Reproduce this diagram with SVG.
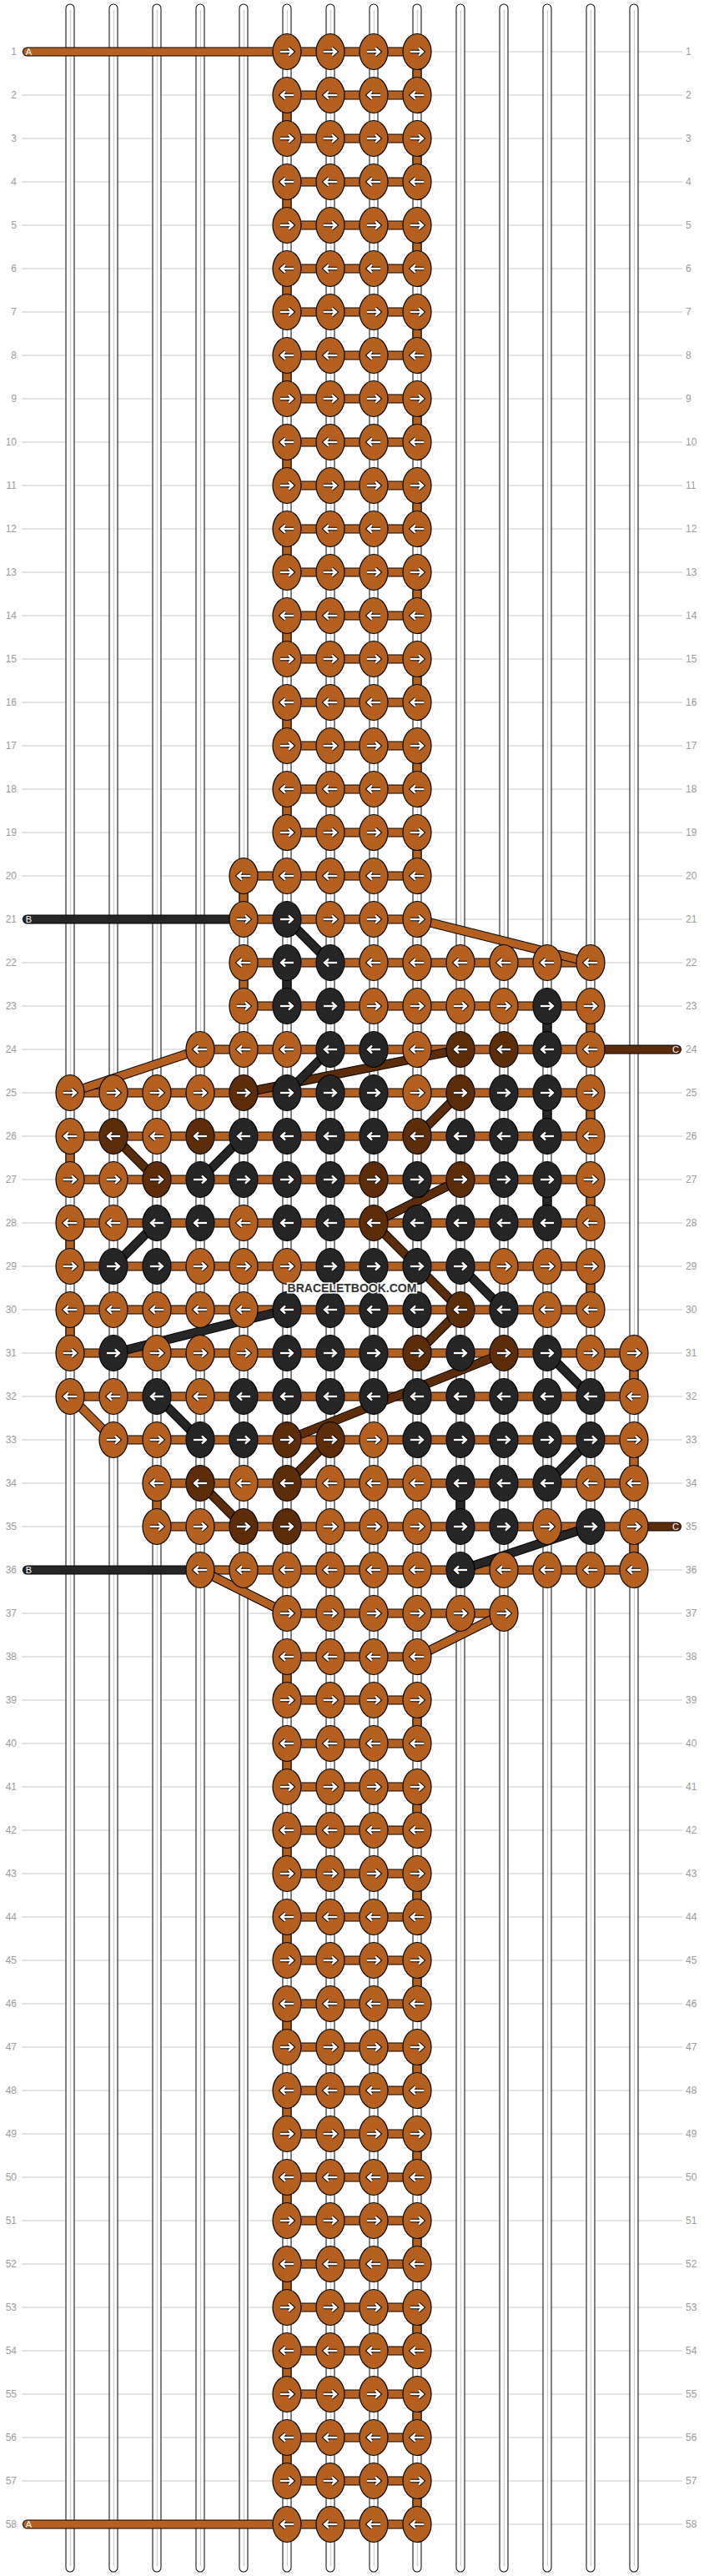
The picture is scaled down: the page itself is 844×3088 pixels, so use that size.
<svg xmlns="http://www.w3.org/2000/svg" xmlns:xlink="http://www.w3.org/1999/xlink" width="844" height="3088" viewBox="0 0 844 3088">
<style>
.gl{stroke:#c6c6c6;stroke-width:1.2;fill:none}
.so{stroke:#000;stroke-width:11;stroke-linecap:round;fill:none}
.sw{stroke:#fff;stroke-width:9;stroke-linecap:round;fill:none}
.sc{stroke:#cfcfcf;stroke-width:1.3;fill:none}
.o{stroke:#000;stroke-width:11;fill:none}
.fb{stroke:#b5601e;stroke-width:9;fill:none}
.fk{stroke:#262626;stroke-width:9;fill:none}
.fd{stroke:#5c2d08;stroke-width:9;fill:none}
.to{stroke:#000;stroke-width:11;stroke-linecap:round;fill:none}
.tb{stroke:#b5601e;stroke-width:9;stroke-linecap:round;fill:none}
.tk{stroke:#262626;stroke-width:9;stroke-linecap:round;fill:none}
.td{stroke:#5c2d08;stroke-width:9;stroke-linecap:round;fill:none}
.eb{fill:#b5601e;stroke:#000;stroke-width:1.2}
.ek{fill:#262626;stroke:#000;stroke-width:1.2}
.ed{fill:#5c2d08;stroke:#000;stroke-width:1.2}
.ao{fill:none;stroke:#000;stroke-width:4.4}
.ai{fill:none;stroke:#fff;stroke-width:2.4}
.rl{font-family:"Liberation Sans",Arial,sans-serif;font-size:12px;fill:#9a9a9a}
.rll{text-anchor:end}
.tl{font-family:"Liberation Sans",Arial,sans-serif;font-size:11px;fill:#fff;text-anchor:middle}
.wm{font-family:"Liberation Sans",Arial,sans-serif;font-size:14px;font-weight:bold;fill:#333;stroke:#fff;stroke-width:3;paint-order:stroke;text-anchor:middle}
</style>
<defs>
<path id="aR" d="M-8,0H6.5M2,-4.5L7,0L2,4.5"/>
<path id="aL" d="M8,0H-6.5M-2,-4.5L-7,0L-2,4.5"/>
<g id="Rb"><ellipse class="eb" rx="17" ry="21.5"/><use href="#aR" class="ao"/><use href="#aR" class="ai"/></g>
<g id="Rk"><ellipse class="ek" rx="17" ry="21.5"/><use href="#aR" class="ao"/><use href="#aR" class="ai"/></g>
<g id="Rd"><ellipse class="ed" rx="17" ry="21.5"/><use href="#aR" class="ao"/><use href="#aR" class="ai"/></g>
<g id="Lb"><ellipse class="eb" rx="17" ry="21.5"/><use href="#aL" class="ao"/><use href="#aL" class="ai"/></g>
<g id="Lk"><ellipse class="ek" rx="17" ry="21.5"/><use href="#aL" class="ao"/><use href="#aL" class="ai"/></g>
<g id="Ld"><ellipse class="ed" rx="17" ry="21.5"/><use href="#aL" class="ao"/><use href="#aL" class="ai"/></g>
</defs>
<rect width="844" height="3088" fill="#fff"/>
<g id="grid">
<path class="gl" d="M26,62H818M26,114H818M26,166H818M26,218H818M26,270H818M26,322H818M26,374H818M26,426H818M26,478H818M26,530H818M26,582H818M26,634H818M26,686H818M26,738H818M26,790H818M26,842H818M26,894H818M26,946H818M26,998H818M26,1050H818M26,1102H818M26,1154H818M26,1206H818M26,1258H818M26,1310H818M26,1362H818M26,1414H818M26,1466H818M26,1518H818M26,1570H818M26,1622H818M26,1674H818M26,1726H818M26,1778H818M26,1830H818M26,1882H818M26,1934H818M26,1986H818M26,2038H818M26,2090H818M26,2142H818M26,2194H818M26,2246H818M26,2298H818M26,2350H818M26,2402H818M26,2454H818M26,2506H818M26,2558H818M26,2610H818M26,2662H818M26,2714H818M26,2766H818M26,2818H818M26,2870H818M26,2922H818M26,2974H818M26,3026H818"/>
</g>
<g id="labels-left" class="rl rll">
<text x="20" y="66">1</text><text x="20" y="118">2</text><text x="20" y="170">3</text><text x="20" y="222">4</text><text x="20" y="274">5</text><text x="20" y="326">6</text><text x="20" y="378">7</text><text x="20" y="430">8</text><text x="20" y="482">9</text><text x="20" y="534">10</text><text x="20" y="586">11</text><text x="20" y="638">12</text><text x="20" y="690">13</text><text x="20" y="742">14</text><text x="20" y="794">15</text><text x="20" y="846">16</text><text x="20" y="898">17</text><text x="20" y="950">18</text><text x="20" y="1002">19</text><text x="20" y="1054">20</text><text x="20" y="1106">21</text><text x="20" y="1158">22</text><text x="20" y="1210">23</text><text x="20" y="1262">24</text><text x="20" y="1314">25</text><text x="20" y="1366">26</text><text x="20" y="1418">27</text><text x="20" y="1470">28</text><text x="20" y="1522">29</text><text x="20" y="1574">30</text><text x="20" y="1626">31</text><text x="20" y="1678">32</text><text x="20" y="1730">33</text><text x="20" y="1782">34</text><text x="20" y="1834">35</text><text x="20" y="1886">36</text><text x="20" y="1938">37</text><text x="20" y="1990">38</text><text x="20" y="2042">39</text><text x="20" y="2094">40</text><text x="20" y="2146">41</text><text x="20" y="2198">42</text><text x="20" y="2250">43</text><text x="20" y="2302">44</text><text x="20" y="2354">45</text><text x="20" y="2406">46</text><text x="20" y="2458">47</text><text x="20" y="2510">48</text><text x="20" y="2562">49</text><text x="20" y="2614">50</text><text x="20" y="2666">51</text><text x="20" y="2718">52</text><text x="20" y="2770">53</text><text x="20" y="2822">54</text><text x="20" y="2874">55</text><text x="20" y="2926">56</text><text x="20" y="2978">57</text><text x="20" y="3030">58</text>
</g>
<g id="labels-right" class="rl">
<text x="822" y="66">1</text><text x="822" y="118">2</text><text x="822" y="170">3</text><text x="822" y="222">4</text><text x="822" y="274">5</text><text x="822" y="326">6</text><text x="822" y="378">7</text><text x="822" y="430">8</text><text x="822" y="482">9</text><text x="822" y="534">10</text><text x="822" y="586">11</text><text x="822" y="638">12</text><text x="822" y="690">13</text><text x="822" y="742">14</text><text x="822" y="794">15</text><text x="822" y="846">16</text><text x="822" y="898">17</text><text x="822" y="950">18</text><text x="822" y="1002">19</text><text x="822" y="1054">20</text><text x="822" y="1106">21</text><text x="822" y="1158">22</text><text x="822" y="1210">23</text><text x="822" y="1262">24</text><text x="822" y="1314">25</text><text x="822" y="1366">26</text><text x="822" y="1418">27</text><text x="822" y="1470">28</text><text x="822" y="1522">29</text><text x="822" y="1574">30</text><text x="822" y="1626">31</text><text x="822" y="1678">32</text><text x="822" y="1730">33</text><text x="822" y="1782">34</text><text x="822" y="1834">35</text><text x="822" y="1886">36</text><text x="822" y="1938">37</text><text x="822" y="1990">38</text><text x="822" y="2042">39</text><text x="822" y="2094">40</text><text x="822" y="2146">41</text><text x="822" y="2198">42</text><text x="822" y="2250">43</text><text x="822" y="2302">44</text><text x="822" y="2354">45</text><text x="822" y="2406">46</text><text x="822" y="2458">47</text><text x="822" y="2510">48</text><text x="822" y="2562">49</text><text x="822" y="2614">50</text><text x="822" y="2666">51</text><text x="822" y="2718">52</text><text x="822" y="2770">53</text><text x="822" y="2822">54</text><text x="822" y="2874">55</text><text x="822" y="2926">56</text><text x="822" y="2978">57</text><text x="822" y="3030">58</text>
</g>
<g id="strings">
<path class="so" d="M84,10V3078M136,10V3078M188,10V3078M240,10V3078M292,10V3078M344,10V3078M396,10V3078M448,10V3078M500,10V3078M552,10V3078M604,10V3078M656,10V3078M708,10V3078M760,10V3078"/>
<path class="sw" d="M84,10V3078M136,10V3078M188,10V3078M240,10V3078M292,10V3078M344,10V3078M396,10V3078M448,10V3078M500,10V3078M552,10V3078M604,10V3078M656,10V3078M708,10V3078M760,10V3078"/>
<path class="sc" d="M84.5,12V3076M136.5,12V3076M188.5,12V3076M240.5,12V3076M292.5,12V3076M344.5,12V3076M396.5,12V3076M448.5,12V3076M500.5,12V3076M552.5,12V3076M604.5,12V3076M656.5,12V3076M708.5,12V3076M760.5,12V3076"/>
</g>
<g id="connectors">
<path id="bars-o" class="o" d="M344,62H500M344,114H500M344,166H500M344,218H500M344,270H500M344,322H500M344,374H500M344,426H500M344,478H500M344,530H500M344,582H500M344,634H500M344,686H500M344,738H500M344,790H500M344,842H500M344,894H500M344,946H500M344,998H500M292,1050H500M292,1102H500M292,1154H708M292,1206H708M240,1258H708M84,1310H708M84,1362H708M84,1414H708M84,1466H708M84,1518H708M84,1570H708M84,1622H760M84,1674H760M136,1726H760M188,1778H760M188,1830H760M240,1882H760M344,1934H604M344,1986H500M344,2038H500M344,2090H500M344,2142H500M344,2194H500M344,2246H500M344,2298H500M344,2350H500M344,2402H500M344,2454H500M344,2506H500M344,2558H500M344,2610H500M344,2662H500M344,2714H500M344,2766H500M344,2818H500M344,2870H500M344,2922H500M344,2974H500M344,3026H500"/>
<path id="bars" class="fb" d="M344,62H500M344,114H500M344,166H500M344,218H500M344,270H500M344,322H500M344,374H500M344,426H500M344,478H500M344,530H500M344,582H500M344,634H500M344,686H500M344,738H500M344,790H500M344,842H500M344,894H500M344,946H500M344,998H500M292,1050H500M292,1102H500M292,1154H708M292,1206H708M240,1258H708M84,1310H708M84,1362H708M84,1414H708M84,1466H708M84,1518H708M84,1570H708M84,1622H760M84,1674H760M136,1726H760M188,1778H760M188,1830H760M240,1882H760M344,1934H604M344,1986H500M344,2038H500M344,2090H500M344,2142H500M344,2194H500M344,2246H500M344,2298H500M344,2350H500M344,2402H500M344,2454H500M344,2506H500M344,2558H500M344,2610H500M344,2662H500M344,2714H500M344,2766H500M344,2818H500M344,2870H500M344,2922H500M344,2974H500M344,3026H500"/>
<path class="o" d="M500,62V114M500,166V218M500,270V322M500,374V426M500,478V530M500,582V634M500,686V738M500,790V842M500,894V946M500,998V1050M344,114V166M344,218V270M344,322V374M344,426V478M344,530V582M344,634V686M344,738V790M344,842V894M344,946V998M292,1050V1102M292,1154V1206M708,1206V1258M708,1310V1362M84,1362V1414M708,1414V1466M84,1466V1518M708,1518V1570M84,1570V1622M760,1622V1674M760,1726V1778M188,1778V1830M760,1830V1882M344,1986V2038M344,2090V2142M344,2194V2246M344,2298V2350M344,2402V2454M344,2506V2558M344,2610V2662M344,2714V2766M344,2818V2870M344,2922V2974M500,2038V2090M500,2142V2194M500,2246V2298M500,2350V2402M500,2454V2506M500,2558V2610M500,2662V2714M500,2766V2818M500,2870V2922M500,2974V3026"/>
<path class="fb" d="M500,62V114M500,166V218M500,270V322M500,374V426M500,478V530M500,582V634M500,686V738M500,790V842M500,894V946M500,998V1050M344,114V166M344,218V270M344,322V374M344,426V478M344,530V582M344,634V686M344,738V790M344,842V894M344,946V998M292,1050V1102M292,1154V1206M708,1206V1258M708,1310V1362M84,1362V1414M708,1414V1466M84,1466V1518M708,1518V1570M84,1570V1622M760,1622V1674M760,1726V1778M188,1778V1830M760,1830V1882M344,1986V2038M344,2090V2142M344,2194V2246M344,2298V2350M344,2402V2454M344,2506V2558M344,2610V2662M344,2714V2766M344,2818V2870M344,2922V2974M500,2038V2090M500,2142V2194M500,2246V2298M500,2350V2402M500,2454V2506M500,2558V2610M500,2662V2714M500,2766V2818M500,2870V2922M500,2974V3026"/>
<path class="o" d="M344,1154V1206M656,1206V1258M656,1310V1362M656,1414V1466M552,1778V1830"/>
<path class="fk" d="M344,1154V1206M656,1206V1258M656,1310V1362M656,1414V1466M552,1778V1830"/>
<path class="o" d="M500,1102L708,1154M240,1258L84,1310M84,1674L136,1726M240,1882L344,1934M604,1934L500,1986"/>
<path class="fb" d="M500,1102L708,1154M240,1258L84,1310M84,1674L136,1726M240,1882L344,1934M604,1934L500,1986"/>
<path class="o" d="M552,1258L292,1310M552,1310L500,1362M136,1362L188,1414M552,1414L448,1466M448,1466L552,1570M552,1570L500,1622M604,1622L344,1726M396,1726L344,1778M240,1778L292,1830"/>
<path class="fd" d="M552,1258L292,1310M552,1310L500,1362M136,1362L188,1414M552,1414L448,1466M448,1466L552,1570M552,1570L500,1622M604,1622L344,1726M396,1726L344,1778M240,1778L292,1830"/>
<path class="o" d="M344,1102L396,1154M396,1258L344,1310M292,1362L240,1414M188,1466L136,1518M552,1518L604,1570M344,1570L136,1622M656,1622L708,1674M188,1674L240,1726M708,1726L656,1778M708,1830L552,1882"/>
<path class="fk" d="M344,1102L396,1154M396,1258L344,1310M292,1362L240,1414M188,1466L136,1518M552,1518L604,1570M344,1570L136,1622M656,1622L708,1674M188,1674L240,1726M708,1726L656,1778M708,1830L552,1882"/>
</g>
<g id="thread-A">
<path class="to" d="M32.5,62H344M32.5,3026H344"/>
<path class="tb" d="M32.5,62H344M32.5,3026H344"/>
<text class="tl" x="34.5" y="66">A</text><text class="tl" x="34.5" y="3030">A</text>
</g>
<g id="thread-B">
<path class="to" d="M32.5,1102H292M32.5,1882H240"/>
<path class="tk" d="M32.5,1102H292M32.5,1882H240"/>
<text class="tl" x="34.5" y="1106">B</text><text class="tl" x="34.5" y="1886">B</text>
</g>
<g id="thread-C">
<path class="to" d="M708,1258H811.5M760,1830H811.5"/>
<path class="td" d="M708,1258H811.5M760,1830H811.5"/>
<text class="tl" x="810" y="1262">C</text><text class="tl" x="810" y="1834">C</text>
</g>
<g id="knots">
<g id="k1-5"><use href="#Rb" x="344" y="62"/></g><g id="k1-6"><use href="#Rb" x="396" y="62"/></g><g id="k1-7"><use href="#Rb" x="448" y="62"/></g><g id="k1-8"><use href="#Rb" x="500" y="62"/></g>
<g id="k2-5"><use href="#Lb" x="344" y="114"/></g><g id="k2-6"><use href="#Lb" x="396" y="114"/></g><g id="k2-7"><use href="#Lb" x="448" y="114"/></g><g id="k2-8"><use href="#Lb" x="500" y="114"/></g>
<g id="k3-5"><use href="#Rb" x="344" y="166"/></g><g id="k3-6"><use href="#Rb" x="396" y="166"/></g><g id="k3-7"><use href="#Rb" x="448" y="166"/></g><g id="k3-8"><use href="#Rb" x="500" y="166"/></g>
<g id="k4-5"><use href="#Lb" x="344" y="218"/></g><g id="k4-6"><use href="#Lb" x="396" y="218"/></g><g id="k4-7"><use href="#Lb" x="448" y="218"/></g><g id="k4-8"><use href="#Lb" x="500" y="218"/></g>
<g id="k5-5"><use href="#Rb" x="344" y="270"/></g><g id="k5-6"><use href="#Rb" x="396" y="270"/></g><g id="k5-7"><use href="#Rb" x="448" y="270"/></g><g id="k5-8"><use href="#Rb" x="500" y="270"/></g>
<g id="k6-5"><use href="#Lb" x="344" y="322"/></g><g id="k6-6"><use href="#Lb" x="396" y="322"/></g><g id="k6-7"><use href="#Lb" x="448" y="322"/></g><g id="k6-8"><use href="#Lb" x="500" y="322"/></g>
<g id="k7-5"><use href="#Rb" x="344" y="374"/></g><g id="k7-6"><use href="#Rb" x="396" y="374"/></g><g id="k7-7"><use href="#Rb" x="448" y="374"/></g><g id="k7-8"><use href="#Rb" x="500" y="374"/></g>
<g id="k8-5"><use href="#Lb" x="344" y="426"/></g><g id="k8-6"><use href="#Lb" x="396" y="426"/></g><g id="k8-7"><use href="#Lb" x="448" y="426"/></g><g id="k8-8"><use href="#Lb" x="500" y="426"/></g>
<g id="k9-5"><use href="#Rb" x="344" y="478"/></g><g id="k9-6"><use href="#Rb" x="396" y="478"/></g><g id="k9-7"><use href="#Rb" x="448" y="478"/></g><g id="k9-8"><use href="#Rb" x="500" y="478"/></g>
<g id="k10-5"><use href="#Lb" x="344" y="530"/></g><g id="k10-6"><use href="#Lb" x="396" y="530"/></g><g id="k10-7"><use href="#Lb" x="448" y="530"/></g><g id="k10-8"><use href="#Lb" x="500" y="530"/></g>
<g id="k11-5"><use href="#Rb" x="344" y="582"/></g><g id="k11-6"><use href="#Rb" x="396" y="582"/></g><g id="k11-7"><use href="#Rb" x="448" y="582"/></g><g id="k11-8"><use href="#Rb" x="500" y="582"/></g>
<g id="k12-5"><use href="#Lb" x="344" y="634"/></g><g id="k12-6"><use href="#Lb" x="396" y="634"/></g><g id="k12-7"><use href="#Lb" x="448" y="634"/></g><g id="k12-8"><use href="#Lb" x="500" y="634"/></g>
<g id="k13-5"><use href="#Rb" x="344" y="686"/></g><g id="k13-6"><use href="#Rb" x="396" y="686"/></g><g id="k13-7"><use href="#Rb" x="448" y="686"/></g><g id="k13-8"><use href="#Rb" x="500" y="686"/></g>
<g id="k14-5"><use href="#Lb" x="344" y="738"/></g><g id="k14-6"><use href="#Lb" x="396" y="738"/></g><g id="k14-7"><use href="#Lb" x="448" y="738"/></g><g id="k14-8"><use href="#Lb" x="500" y="738"/></g>
<g id="k15-5"><use href="#Rb" x="344" y="790"/></g><g id="k15-6"><use href="#Rb" x="396" y="790"/></g><g id="k15-7"><use href="#Rb" x="448" y="790"/></g><g id="k15-8"><use href="#Rb" x="500" y="790"/></g>
<g id="k16-5"><use href="#Lb" x="344" y="842"/></g><g id="k16-6"><use href="#Lb" x="396" y="842"/></g><g id="k16-7"><use href="#Lb" x="448" y="842"/></g><g id="k16-8"><use href="#Lb" x="500" y="842"/></g>
<g id="k17-5"><use href="#Rb" x="344" y="894"/></g><g id="k17-6"><use href="#Rb" x="396" y="894"/></g><g id="k17-7"><use href="#Rb" x="448" y="894"/></g><g id="k17-8"><use href="#Rb" x="500" y="894"/></g>
<g id="k18-5"><use href="#Lb" x="344" y="946"/></g><g id="k18-6"><use href="#Lb" x="396" y="946"/></g><g id="k18-7"><use href="#Lb" x="448" y="946"/></g><g id="k18-8"><use href="#Lb" x="500" y="946"/></g>
<g id="k19-5"><use href="#Rb" x="344" y="998"/></g><g id="k19-6"><use href="#Rb" x="396" y="998"/></g><g id="k19-7"><use href="#Rb" x="448" y="998"/></g><g id="k19-8"><use href="#Rb" x="500" y="998"/></g>
<g id="k20-4"><use href="#Lb" x="292" y="1050"/></g><g id="k20-5"><use href="#Lb" x="344" y="1050"/></g><g id="k20-6"><use href="#Lb" x="396" y="1050"/></g><g id="k20-7"><use href="#Lb" x="448" y="1050"/></g><g id="k20-8"><use href="#Lb" x="500" y="1050"/></g>
<g id="k21-4"><use href="#Rb" x="292" y="1102"/></g><g id="k21-5"><use href="#Rk" x="344" y="1102"/></g><g id="k21-6"><use href="#Rb" x="396" y="1102"/></g><g id="k21-7"><use href="#Rb" x="448" y="1102"/></g><g id="k21-8"><use href="#Rb" x="500" y="1102"/></g>
<g id="k22-4"><use href="#Lb" x="292" y="1154"/></g><g id="k22-5"><use href="#Lk" x="344" y="1154"/></g><g id="k22-6"><use href="#Lk" x="396" y="1154"/></g><g id="k22-7"><use href="#Lb" x="448" y="1154"/></g><g id="k22-8"><use href="#Lb" x="500" y="1154"/></g><g id="k22-9"><use href="#Lb" x="552" y="1154"/></g><g id="k22-10"><use href="#Lb" x="604" y="1154"/></g><g id="k22-11"><use href="#Lb" x="656" y="1154"/></g><g id="k22-12"><use href="#Lb" x="708" y="1154"/></g>
<g id="k23-4"><use href="#Rb" x="292" y="1206"/></g><g id="k23-5"><use href="#Rk" x="344" y="1206"/></g><g id="k23-6"><use href="#Rk" x="396" y="1206"/></g><g id="k23-7"><use href="#Rb" x="448" y="1206"/></g><g id="k23-8"><use href="#Rb" x="500" y="1206"/></g><g id="k23-9"><use href="#Rb" x="552" y="1206"/></g><g id="k23-10"><use href="#Rb" x="604" y="1206"/></g><g id="k23-11"><use href="#Rk" x="656" y="1206"/></g><g id="k23-12"><use href="#Rb" x="708" y="1206"/></g>
<g id="k24-3"><use href="#Lb" x="240" y="1258"/></g><g id="k24-4"><use href="#Lb" x="292" y="1258"/></g><g id="k24-5"><use href="#Lb" x="344" y="1258"/></g><g id="k24-6"><use href="#Lk" x="396" y="1258"/></g><g id="k24-7"><use href="#Lk" x="448" y="1258"/></g><g id="k24-8"><use href="#Lb" x="500" y="1258"/></g><g id="k24-9"><use href="#Ld" x="552" y="1258"/></g><g id="k24-10"><use href="#Ld" x="604" y="1258"/></g><g id="k24-11"><use href="#Lk" x="656" y="1258"/></g><g id="k24-12"><use href="#Lb" x="708" y="1258"/></g>
<g id="k25-0"><use href="#Rb" x="84" y="1310"/></g><g id="k25-1"><use href="#Rb" x="136" y="1310"/></g><g id="k25-2"><use href="#Rb" x="188" y="1310"/></g><g id="k25-3"><use href="#Rb" x="240" y="1310"/></g><g id="k25-4"><use href="#Rd" x="292" y="1310"/></g><g id="k25-5"><use href="#Rk" x="344" y="1310"/></g><g id="k25-6"><use href="#Rk" x="396" y="1310"/></g><g id="k25-7"><use href="#Rk" x="448" y="1310"/></g><g id="k25-8"><use href="#Rb" x="500" y="1310"/></g><g id="k25-9"><use href="#Rd" x="552" y="1310"/></g><g id="k25-10"><use href="#Rk" x="604" y="1310"/></g><g id="k25-11"><use href="#Rk" x="656" y="1310"/></g><g id="k25-12"><use href="#Rb" x="708" y="1310"/></g>
<g id="k26-0"><use href="#Lb" x="84" y="1362"/></g><g id="k26-1"><use href="#Ld" x="136" y="1362"/></g><g id="k26-2"><use href="#Lb" x="188" y="1362"/></g><g id="k26-3"><use href="#Ld" x="240" y="1362"/></g><g id="k26-4"><use href="#Lk" x="292" y="1362"/></g><g id="k26-5"><use href="#Lk" x="344" y="1362"/></g><g id="k26-6"><use href="#Lk" x="396" y="1362"/></g><g id="k26-7"><use href="#Lk" x="448" y="1362"/></g><g id="k26-8"><use href="#Ld" x="500" y="1362"/></g><g id="k26-9"><use href="#Lk" x="552" y="1362"/></g><g id="k26-10"><use href="#Lk" x="604" y="1362"/></g><g id="k26-11"><use href="#Lk" x="656" y="1362"/></g><g id="k26-12"><use href="#Lb" x="708" y="1362"/></g>
<g id="k27-0"><use href="#Rb" x="84" y="1414"/></g><g id="k27-1"><use href="#Rb" x="136" y="1414"/></g><g id="k27-2"><use href="#Rd" x="188" y="1414"/></g><g id="k27-3"><use href="#Rk" x="240" y="1414"/></g><g id="k27-4"><use href="#Rk" x="292" y="1414"/></g><g id="k27-5"><use href="#Rk" x="344" y="1414"/></g><g id="k27-6"><use href="#Rk" x="396" y="1414"/></g><g id="k27-7"><use href="#Rd" x="448" y="1414"/></g><g id="k27-8"><use href="#Rk" x="500" y="1414"/></g><g id="k27-9"><use href="#Rd" x="552" y="1414"/></g><g id="k27-10"><use href="#Rk" x="604" y="1414"/></g><g id="k27-11"><use href="#Rk" x="656" y="1414"/></g><g id="k27-12"><use href="#Rb" x="708" y="1414"/></g>
<g id="k28-0"><use href="#Lb" x="84" y="1466"/></g><g id="k28-1"><use href="#Lb" x="136" y="1466"/></g><g id="k28-2"><use href="#Lk" x="188" y="1466"/></g><g id="k28-3"><use href="#Lk" x="240" y="1466"/></g><g id="k28-4"><use href="#Lb" x="292" y="1466"/></g><g id="k28-5"><use href="#Lk" x="344" y="1466"/></g><g id="k28-6"><use href="#Lk" x="396" y="1466"/></g><g id="k28-7"><use href="#Ld" x="448" y="1466"/></g><g id="k28-8"><use href="#Lk" x="500" y="1466"/></g><g id="k28-9"><use href="#Lk" x="552" y="1466"/></g><g id="k28-10"><use href="#Lk" x="604" y="1466"/></g><g id="k28-11"><use href="#Lk" x="656" y="1466"/></g><g id="k28-12"><use href="#Lb" x="708" y="1466"/></g>
<g id="k29-0"><use href="#Rb" x="84" y="1518"/></g><g id="k29-1"><use href="#Rk" x="136" y="1518"/></g><g id="k29-2"><use href="#Rk" x="188" y="1518"/></g><g id="k29-3"><use href="#Rb" x="240" y="1518"/></g><g id="k29-4"><use href="#Rb" x="292" y="1518"/></g><g id="k29-5"><use href="#Rb" x="344" y="1518"/></g><g id="k29-6"><use href="#Rk" x="396" y="1518"/></g><g id="k29-7"><use href="#Rk" x="448" y="1518"/></g><g id="k29-8"><use href="#Rk" x="500" y="1518"/></g><g id="k29-9"><use href="#Rk" x="552" y="1518"/></g><g id="k29-10"><use href="#Rb" x="604" y="1518"/></g><g id="k29-11"><use href="#Rb" x="656" y="1518"/></g><g id="k29-12"><use href="#Rb" x="708" y="1518"/></g>
<g id="k30-0"><use href="#Lb" x="84" y="1570"/></g><g id="k30-1"><use href="#Lb" x="136" y="1570"/></g><g id="k30-2"><use href="#Lb" x="188" y="1570"/></g><g id="k30-3"><use href="#Lb" x="240" y="1570"/></g><g id="k30-4"><use href="#Lb" x="292" y="1570"/></g><g id="k30-5"><use href="#Lk" x="344" y="1570"/></g><g id="k30-6"><use href="#Lk" x="396" y="1570"/></g><g id="k30-7"><use href="#Lk" x="448" y="1570"/></g><g id="k30-8"><use href="#Lk" x="500" y="1570"/></g><g id="k30-9"><use href="#Ld" x="552" y="1570"/></g><g id="k30-10"><use href="#Lk" x="604" y="1570"/></g><g id="k30-11"><use href="#Lb" x="656" y="1570"/></g><g id="k30-12"><use href="#Lb" x="708" y="1570"/></g>
<g id="k31-0"><use href="#Rb" x="84" y="1622"/></g><g id="k31-1"><use href="#Rk" x="136" y="1622"/></g><g id="k31-2"><use href="#Rb" x="188" y="1622"/></g><g id="k31-3"><use href="#Rb" x="240" y="1622"/></g><g id="k31-4"><use href="#Rb" x="292" y="1622"/></g><g id="k31-5"><use href="#Rk" x="344" y="1622"/></g><g id="k31-6"><use href="#Rk" x="396" y="1622"/></g><g id="k31-7"><use href="#Rk" x="448" y="1622"/></g><g id="k31-8"><use href="#Rd" x="500" y="1622"/></g><g id="k31-9"><use href="#Rk" x="552" y="1622"/></g><g id="k31-10"><use href="#Rd" x="604" y="1622"/></g><g id="k31-11"><use href="#Rk" x="656" y="1622"/></g><g id="k31-12"><use href="#Rb" x="708" y="1622"/></g><g id="k31-13"><use href="#Rb" x="760" y="1622"/></g>
<g id="k32-0"><use href="#Lb" x="84" y="1674"/></g><g id="k32-1"><use href="#Lb" x="136" y="1674"/></g><g id="k32-2"><use href="#Lk" x="188" y="1674"/></g><g id="k32-3"><use href="#Lb" x="240" y="1674"/></g><g id="k32-4"><use href="#Lk" x="292" y="1674"/></g><g id="k32-5"><use href="#Lk" x="344" y="1674"/></g><g id="k32-6"><use href="#Lk" x="396" y="1674"/></g><g id="k32-7"><use href="#Lk" x="448" y="1674"/></g><g id="k32-8"><use href="#Lk" x="500" y="1674"/></g><g id="k32-9"><use href="#Lk" x="552" y="1674"/></g><g id="k32-10"><use href="#Lk" x="604" y="1674"/></g><g id="k32-11"><use href="#Lk" x="656" y="1674"/></g><g id="k32-12"><use href="#Lk" x="708" y="1674"/></g><g id="k32-13"><use href="#Lb" x="760" y="1674"/></g>
<g id="k33-1"><use href="#Rb" x="136" y="1726"/></g><g id="k33-2"><use href="#Rb" x="188" y="1726"/></g><g id="k33-3"><use href="#Rk" x="240" y="1726"/></g><g id="k33-4"><use href="#Rk" x="292" y="1726"/></g><g id="k33-5"><use href="#Rd" x="344" y="1726"/></g><g id="k33-6"><use href="#Rd" x="396" y="1726"/></g><g id="k33-7"><use href="#Rb" x="448" y="1726"/></g><g id="k33-8"><use href="#Rk" x="500" y="1726"/></g><g id="k33-9"><use href="#Rk" x="552" y="1726"/></g><g id="k33-10"><use href="#Rk" x="604" y="1726"/></g><g id="k33-11"><use href="#Rk" x="656" y="1726"/></g><g id="k33-12"><use href="#Rk" x="708" y="1726"/></g><g id="k33-13"><use href="#Rb" x="760" y="1726"/></g>
<g id="k34-2"><use href="#Lb" x="188" y="1778"/></g><g id="k34-3"><use href="#Ld" x="240" y="1778"/></g><g id="k34-4"><use href="#Lb" x="292" y="1778"/></g><g id="k34-5"><use href="#Ld" x="344" y="1778"/></g><g id="k34-6"><use href="#Lb" x="396" y="1778"/></g><g id="k34-7"><use href="#Lb" x="448" y="1778"/></g><g id="k34-8"><use href="#Lb" x="500" y="1778"/></g><g id="k34-9"><use href="#Lk" x="552" y="1778"/></g><g id="k34-10"><use href="#Lk" x="604" y="1778"/></g><g id="k34-11"><use href="#Lk" x="656" y="1778"/></g><g id="k34-12"><use href="#Lb" x="708" y="1778"/></g><g id="k34-13"><use href="#Lb" x="760" y="1778"/></g>
<g id="k35-2"><use href="#Rb" x="188" y="1830"/></g><g id="k35-3"><use href="#Rb" x="240" y="1830"/></g><g id="k35-4"><use href="#Rd" x="292" y="1830"/></g><g id="k35-5"><use href="#Rd" x="344" y="1830"/></g><g id="k35-6"><use href="#Rb" x="396" y="1830"/></g><g id="k35-7"><use href="#Rb" x="448" y="1830"/></g><g id="k35-8"><use href="#Rb" x="500" y="1830"/></g><g id="k35-9"><use href="#Rk" x="552" y="1830"/></g><g id="k35-10"><use href="#Rk" x="604" y="1830"/></g><g id="k35-11"><use href="#Rb" x="656" y="1830"/></g><g id="k35-12"><use href="#Rk" x="708" y="1830"/></g><g id="k35-13"><use href="#Rb" x="760" y="1830"/></g>
<g id="k36-3"><use href="#Lb" x="240" y="1882"/></g><g id="k36-4"><use href="#Lb" x="292" y="1882"/></g><g id="k36-5"><use href="#Lb" x="344" y="1882"/></g><g id="k36-6"><use href="#Lb" x="396" y="1882"/></g><g id="k36-7"><use href="#Lb" x="448" y="1882"/></g><g id="k36-8"><use href="#Lb" x="500" y="1882"/></g><g id="k36-9"><use href="#Lk" x="552" y="1882"/></g><g id="k36-10"><use href="#Lb" x="604" y="1882"/></g><g id="k36-11"><use href="#Lb" x="656" y="1882"/></g><g id="k36-12"><use href="#Lb" x="708" y="1882"/></g><g id="k36-13"><use href="#Lb" x="760" y="1882"/></g>
<g id="k37-5"><use href="#Rb" x="344" y="1934"/></g><g id="k37-6"><use href="#Rb" x="396" y="1934"/></g><g id="k37-7"><use href="#Rb" x="448" y="1934"/></g><g id="k37-8"><use href="#Rb" x="500" y="1934"/></g><g id="k37-9"><use href="#Rb" x="552" y="1934"/></g><g id="k37-10"><use href="#Rb" x="604" y="1934"/></g>
<g id="k38-5"><use href="#Lb" x="344" y="1986"/></g><g id="k38-6"><use href="#Lb" x="396" y="1986"/></g><g id="k38-7"><use href="#Lb" x="448" y="1986"/></g><g id="k38-8"><use href="#Lb" x="500" y="1986"/></g>
<g id="k39-5"><use href="#Rb" x="344" y="2038"/></g><g id="k39-6"><use href="#Rb" x="396" y="2038"/></g><g id="k39-7"><use href="#Rb" x="448" y="2038"/></g><g id="k39-8"><use href="#Rb" x="500" y="2038"/></g>
<g id="k40-5"><use href="#Lb" x="344" y="2090"/></g><g id="k40-6"><use href="#Lb" x="396" y="2090"/></g><g id="k40-7"><use href="#Lb" x="448" y="2090"/></g><g id="k40-8"><use href="#Lb" x="500" y="2090"/></g>
<g id="k41-5"><use href="#Rb" x="344" y="2142"/></g><g id="k41-6"><use href="#Rb" x="396" y="2142"/></g><g id="k41-7"><use href="#Rb" x="448" y="2142"/></g><g id="k41-8"><use href="#Rb" x="500" y="2142"/></g>
<g id="k42-5"><use href="#Lb" x="344" y="2194"/></g><g id="k42-6"><use href="#Lb" x="396" y="2194"/></g><g id="k42-7"><use href="#Lb" x="448" y="2194"/></g><g id="k42-8"><use href="#Lb" x="500" y="2194"/></g>
<g id="k43-5"><use href="#Rb" x="344" y="2246"/></g><g id="k43-6"><use href="#Rb" x="396" y="2246"/></g><g id="k43-7"><use href="#Rb" x="448" y="2246"/></g><g id="k43-8"><use href="#Rb" x="500" y="2246"/></g>
<g id="k44-5"><use href="#Lb" x="344" y="2298"/></g><g id="k44-6"><use href="#Lb" x="396" y="2298"/></g><g id="k44-7"><use href="#Lb" x="448" y="2298"/></g><g id="k44-8"><use href="#Lb" x="500" y="2298"/></g>
<g id="k45-5"><use href="#Rb" x="344" y="2350"/></g><g id="k45-6"><use href="#Rb" x="396" y="2350"/></g><g id="k45-7"><use href="#Rb" x="448" y="2350"/></g><g id="k45-8"><use href="#Rb" x="500" y="2350"/></g>
<g id="k46-5"><use href="#Lb" x="344" y="2402"/></g><g id="k46-6"><use href="#Lb" x="396" y="2402"/></g><g id="k46-7"><use href="#Lb" x="448" y="2402"/></g><g id="k46-8"><use href="#Lb" x="500" y="2402"/></g>
<g id="k47-5"><use href="#Rb" x="344" y="2454"/></g><g id="k47-6"><use href="#Rb" x="396" y="2454"/></g><g id="k47-7"><use href="#Rb" x="448" y="2454"/></g><g id="k47-8"><use href="#Rb" x="500" y="2454"/></g>
<g id="k48-5"><use href="#Lb" x="344" y="2506"/></g><g id="k48-6"><use href="#Lb" x="396" y="2506"/></g><g id="k48-7"><use href="#Lb" x="448" y="2506"/></g><g id="k48-8"><use href="#Lb" x="500" y="2506"/></g>
<g id="k49-5"><use href="#Rb" x="344" y="2558"/></g><g id="k49-6"><use href="#Rb" x="396" y="2558"/></g><g id="k49-7"><use href="#Rb" x="448" y="2558"/></g><g id="k49-8"><use href="#Rb" x="500" y="2558"/></g>
<g id="k50-5"><use href="#Lb" x="344" y="2610"/></g><g id="k50-6"><use href="#Lb" x="396" y="2610"/></g><g id="k50-7"><use href="#Lb" x="448" y="2610"/></g><g id="k50-8"><use href="#Lb" x="500" y="2610"/></g>
<g id="k51-5"><use href="#Rb" x="344" y="2662"/></g><g id="k51-6"><use href="#Rb" x="396" y="2662"/></g><g id="k51-7"><use href="#Rb" x="448" y="2662"/></g><g id="k51-8"><use href="#Rb" x="500" y="2662"/></g>
<g id="k52-5"><use href="#Lb" x="344" y="2714"/></g><g id="k52-6"><use href="#Lb" x="396" y="2714"/></g><g id="k52-7"><use href="#Lb" x="448" y="2714"/></g><g id="k52-8"><use href="#Lb" x="500" y="2714"/></g>
<g id="k53-5"><use href="#Rb" x="344" y="2766"/></g><g id="k53-6"><use href="#Rb" x="396" y="2766"/></g><g id="k53-7"><use href="#Rb" x="448" y="2766"/></g><g id="k53-8"><use href="#Rb" x="500" y="2766"/></g>
<g id="k54-5"><use href="#Lb" x="344" y="2818"/></g><g id="k54-6"><use href="#Lb" x="396" y="2818"/></g><g id="k54-7"><use href="#Lb" x="448" y="2818"/></g><g id="k54-8"><use href="#Lb" x="500" y="2818"/></g>
<g id="k55-5"><use href="#Rb" x="344" y="2870"/></g><g id="k55-6"><use href="#Rb" x="396" y="2870"/></g><g id="k55-7"><use href="#Rb" x="448" y="2870"/></g><g id="k55-8"><use href="#Rb" x="500" y="2870"/></g>
<g id="k56-5"><use href="#Lb" x="344" y="2922"/></g><g id="k56-6"><use href="#Lb" x="396" y="2922"/></g><g id="k56-7"><use href="#Lb" x="448" y="2922"/></g><g id="k56-8"><use href="#Lb" x="500" y="2922"/></g>
<g id="k57-5"><use href="#Rb" x="344" y="2974"/></g><g id="k57-6"><use href="#Rb" x="396" y="2974"/></g><g id="k57-7"><use href="#Rb" x="448" y="2974"/></g><g id="k57-8"><use href="#Rb" x="500" y="2974"/></g>
<g id="k58-5"><use href="#Lb" x="344" y="3026"/></g><g id="k58-6"><use href="#Lb" x="396" y="3026"/></g><g id="k58-7"><use href="#Lb" x="448" y="3026"/></g><g id="k58-8"><use href="#Lb" x="500" y="3026"/></g>
</g>
<text class="wm" x="422" y="1549">BRACELETBOOK.COM</text>
</svg>
